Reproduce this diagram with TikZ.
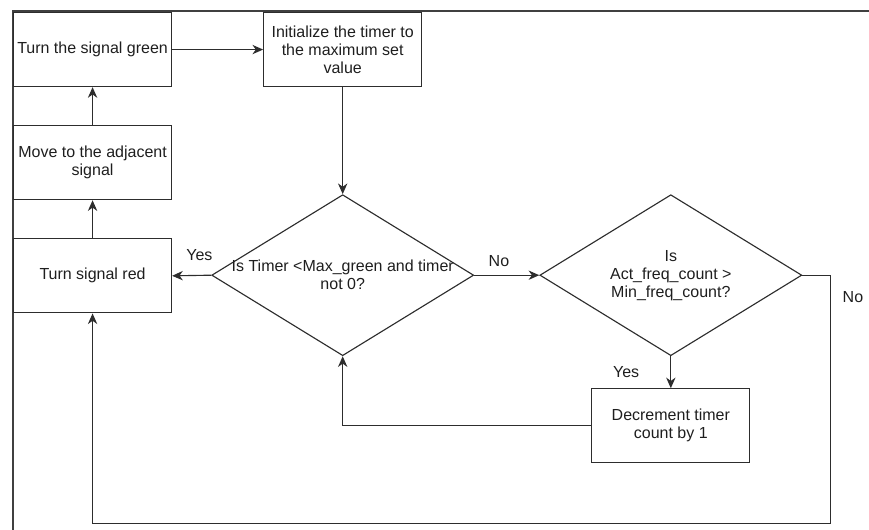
\documentclass[tikz,border=0pt]{standalone}
\usepackage{fontspec}
\setmainfont{Liberation Sans}
\usepackage{tikz}
\usetikzlibrary{shapes,arrows.meta,positioning,calc}
\definecolor{lineGray}{RGB}{45,45,45}
\definecolor{textGray}{RGB}{30,30,30}

\begin{document}
\begin{tikzpicture}[
    font=\fontsize{12}{13.5}\selectfont,
    process/.style={rectangle, draw=lineGray, line width=0.85pt, minimum width=118.5pt, minimum height=55.5pt, inner sep=2pt, align=center, text=textGray},
    decision/.style={diamond, draw=lineGray, line width=0.85pt, minimum width=196.5pt, minimum height=120.75pt, inner sep=0pt},
    arrow/.style={-{Stealth[length=8pt,width=7pt,inset=2.5pt]}, draw=lineGray, line width=0.85pt},
    answer/.style={text=textGray}
]
\useasboundingbox (0,0) rectangle (651.75pt,-397.5pt);

% Frame
\draw[black!75, line width=1.5pt] (9.4pt,-397.5pt) |- (651.75pt,-7.9pt);

% Main flow
\node[process, anchor=north west] (green) at (9.75pt,-9pt) {Turn the signal green};
\node[process, below=28.5pt of green] (adjacent) {Move to the adjacent\\signal};
\node[process, below=28.5pt of adjacent] (red) {Turn signal red};
\node[process, right=68.25pt of green] (init) {Initialize the timer to\\the maximum set\\value};
\node[decision, below=80.25pt of init, label={[align=center, text=textGray]center:Is Timer <Max\_green and timer\\not 0?}] (timerCheck) {};
\node[decision, right=48.75pt of timerCheck, label={[align=center, text=textGray]center:Is\\Act\_freq\_count >\\Min\_freq\_count?}] (freqCheck) {};
\node[process, below=24pt of freqCheck] (decrement) {Decrement timer\\count by 1};

% Loop corners
\coordinate (loopR) at ($(freqCheck.east)+(21pt,0)$);
\coordinate (loopB) at ($(loopR)+(0,-186pt)$);

% Arrows
\draw[arrow] (green) -- (init);
\draw[arrow] (init) -- (timerCheck);
\draw[arrow] (timerCheck.west) -- node[answer, above=7pt, pos=0.3] {Yes} (red.east);
\draw[arrow] (timerCheck.east) -- node[answer, above=3pt, pos=0.38] {No} (freqCheck.west);
\draw[arrow] (freqCheck.south) -- node[answer, left=20pt] {Yes} (decrement.north);
\draw[arrow] (decrement.west) -| (timerCheck.south);
\draw[arrow] (freqCheck.east) -- (loopR) -- node[answer, right=5.5pt, pos=0.09] {No} (loopB) -| (red.south);
\draw[arrow] (red) -- (adjacent);
\draw[arrow] (adjacent) -- (green);

\end{tikzpicture}
\end{document}
